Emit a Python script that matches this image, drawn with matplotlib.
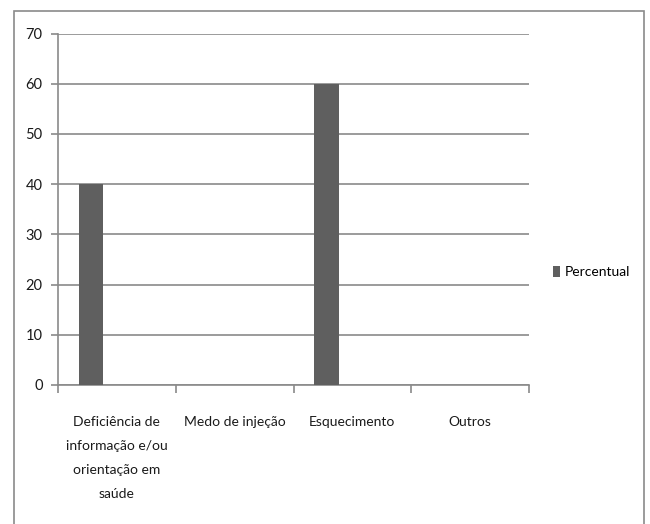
import matplotlib
matplotlib.use("Agg")
import matplotlib.pyplot as plt
from matplotlib.patches import Rectangle
import numpy as np

categories = ["Deficiência de\ninformação e/ou\norientação em\nsaúde",
              "Medo de injeção", "Esquecimento", "Outros"]
values = [40, 0, 60, 0]
series_name = "Percentual"
yticks = [0, 10, 20, 30, 40, 50, 60, 70]

plt.rcParams['font.family'] = ['Lato', 'DejaVu Sans']

fig = plt.figure(figsize=(6.5, 5.24), dpi=100)
W, H = 650, 524
ax = fig.add_axes([58 / W, 1 - 385 / H, (529 - 58) / W, (385 - 33.5) / H])

x = np.arange(len(categories))
ax.bar(x - 0.22, values, width=0.21, color="#5f5f5f", label=series_name, zorder=3)

ax.set_xlim(-0.5, len(categories) - 0.5)
ax.set_ylim(0, 70)
ax.set_yticks(yticks)
ax.set_yticklabels([str(v) for v in yticks], fontsize=10.5, color="#1a1a1a")
ax.yaxis.grid(True, color="#8a8a8a", linewidth=1.2, zorder=0)
ax.tick_params(axis='y', length=5, width=1.2, color="#8a8a8a", pad=6)

ax.set_xticks(np.arange(len(categories) + 1) - 0.5, minor=False)
ax.set_xticklabels([])
ax.tick_params(axis='x', which='major', length=6, width=1.2, color="#8a8a8a")
ax.set_xticks(x, minor=True)
ax.set_xticklabels(categories, minor=True, fontsize=10, color="#1a1a1a",
                   linespacing=2.22, va='top')
ax.tick_params(axis='x', which='minor', length=0, pad=22)

for s in ['top', 'right']:
    ax.spines[s].set_visible(False)
for s in ['left', 'bottom']:
    ax.spines[s].set_color("#8a8a8a")
    ax.spines[s].set_linewidth(1.2)

leg = fig.legend(loc='center left', bbox_to_anchor=(540 / W, 1 - 272 / H),
                 frameon=False, fontsize=10, handlelength=0.55, handleheight=0.9,
                 handletextpad=0.3)

fig.patches.append(Rectangle((13.5 / W, -0.05), (644 - 13.5) / W, 1.05 - 11 / H,
                             transform=fig.transFigure, fill=False,
                             edgecolor="#8a8a8a", linewidth=1.2, clip_on=False))

fig.savefig("out.png", dpi=100)
